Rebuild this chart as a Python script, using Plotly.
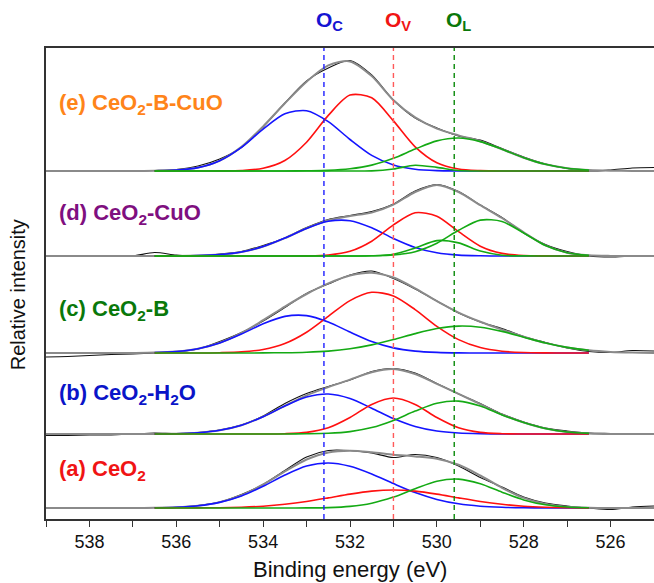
import plotly.graph_objects as go

# ---------------- data ----------------
energy = [525.0, 525.5, 526.0, 526.5, 527.0, 527.5, 528.0, 528.5, 529.0, 529.5,
          530.0, 530.5, 531.0, 531.5, 532.0, 532.5, 533.0, 533.5, 534.0, 534.5,
          535.0, 535.5, 536.0, 536.5, 537.0, 537.5, 538.0, 538.5, 539.0]
fit_energy = [526.5, 527.0, 527.5, 528.0, 528.5, 529.0, 529.5, 530.0, 530.5, 531.0,
              531.5, 532.0, 532.5, 533.0, 533.5, 534.0, 534.5, 535.0, 535.5, 536.0, 536.5]

sample_names = ["(e) CeO<sub>2</sub>-B-CuO", "(d) CeO<sub>2</sub>-CuO", "(c) CeO<sub>2</sub>-B",
                "(b) CeO<sub>2</sub>-H<sub>2</sub>O", "(a) CeO<sub>2</sub>"]
sample_colors = ["#FF8419", "#7F0F7F", "#0A780A", "#0A14C8", "#F01414"]
offsets = [348, 263, 166, 85, 11]

# (e) CeO2-B-CuO
raw_e = [3.5, 3, 1, 0, 2.5, 7, 14, 22.5, 31, 35, 43, 53, 71, 96, 110.5, 103, 90, 68, 44, 23.5,
         12, 5, 1.5, 0.5, 0, 0.5, -0.5, 0.5, -0.5]
env_e = [0, 0.1, 0.3, 1.0, 2.8, 6.7, 13.3, 21.8, 29.8, 35.6, 42.4, 53.7, 70.8, 94.9, 109.6, 105.6,
         89.3, 67.7, 44.6, 24.1, 10.4, 3.4, 0.9, 0.2, 0, 0, 0, 0, 0]
oc_e = [0, 0, 0, 0, 0, 0, 0.1, 0.4, 1.8, 6.0, 15.6, 31.5, 49.4, 60.3, 57.2, 41.9, 23.6, 10.3, 3.4, 0.9, 0.2]
ov_e = [0, 0, 0, 0, 0, 0.4, 2.0, 8.3, 24.2, 50.1, 73.3, 75.9, 55.6, 28.8, 10.5, 2.7, 0.5, 0.1, 0, 0, 0]
ol_e = [1.0, 2.8, 6.7, 13.3, 21.8, 29.4, 33.0, 30.1, 21.9, 12.7, 5.9, 2.2, 0.6, 0.2, 0, 0, 0, 0, 0, 0, 0]
ol2_e = [0, 0, 0, 0, 0, 0, 0.5, 3.6, 5.8, 2.0, 0.1, 0, 0, 0, 0, 0, 0, 0, 0, 0, 0]

# (d) CeO2-CuO
raw_d = [0.5, 0, -1, 0, 4.5, 11.5, 23, 38.5, 51, 64.5, 71.5, 65, 52, 44.5, 40.5, 36.5, 28.5, 18,
         10.5, 4.5, 2, 0, 1, 3.5, 0, -0.5, -0.5, 0, -0.5]
env_d = [0, 0, 0.1, 0.7, 3.3, 10.6, 23.6, 38.0, 50.8, 64.0, 71.1, 64.0, 51.4, 43.4, 40.0, 35.7,
         27.7, 17.9, 9.4, 4.0, 1.4, 0.4, 0.1, 0, 0, 0, 0, 0, 0]
oc_d = [0, 0, 0, 0, 0, 0.2, 0.9, 3.2, 8.5, 17.5, 28.2, 35.3, 34.7, 27.6, 17.9, 9.4, 4.0, 1.4, 0.4, 0.1, 0]
ov_d = [0, 0, 0.1, 0.5, 2.6, 9.8, 24.3, 39.8, 43.2, 31.1, 14.8, 4.7, 1.0, 0.1, 0, 0, 0, 0, 0, 0, 0]
ol_d = [0.7, 3.3, 10.5, 23.0, 34.6, 35.9, 25.7, 12.7, 4.3, 1.0, 0.2, 0, 0, 0, 0, 0, 0, 0, 0, 0, 0]
ol2_d = [0, 0, 0, 0.1, 0.8, 4.9, 13.1, 15.4, 8.0, 1.8, 0.2, 0, 0, 0, 0, 0, 0, 0, 0, 0, 0]

# (c) CeO2-B
raw_c = [2, 2.5, 0.5, 1.5, 5, 10.5, 16.5, 24.5, 31, 40, 52, 64, 74.5, 82, 78, 69, 59.5, 45.5, 32,
         20.5, 11.5, 4, 1, 0, -1, -1.5, -2.5, -3.5, -4]
env_c = [0.1, 0.4, 1.1, 2.7, 5.6, 10.1, 16.3, 23.4, 31.2, 40.4, 51.8, 64.7, 75.5, 80.3, 77.5, 69.6,
         59.0, 46.4, 32.8, 20.0, 10.3, 4.3, 1.5, 0.4, 0.1, 0, 0, 0, 0]
oc_c = [0, 0, 0, 0, 0, 0, 0.1, 0.6, 1.9, 5.1, 11.5, 20.9, 31.0, 37.4, 36.6, 29.2, 18.9, 10.0, 4.3, 1.5, 0.4]
ov_c = [0, 0, 0.1, 0.5, 1.8, 5.4, 13.4, 26.7, 43.4, 57.0, 60.7, 52.4, 36.7, 20.8, 9.5, 3.5, 1.1, 0.3, 0, 0, 0]
ol_c = [2.7, 5.6, 10.0, 15.8, 21.6, 25.8, 26.9, 24.5, 19.4, 13.4, 8.1, 4.2, 1.9, 0.8, 0.3, 0.1, 0, 0, 0, 0, 0]

# (b) CeO2-H2O
raw_b = [0.5, 0, 0.5, 1, 3, 6, 12, 20, 30.5, 40, 50.5, 61, 65.5, 62.5, 54, 47.5, 40.5, 30.5, 18, 9,
         4, 1.5, 0.5, 1, 0, -1, -1, -1.5, -1.5]
env_b = [0, 0, 0.1, 0.6, 2.0, 5.5, 11.5, 19.5, 29.9, 40.1, 50.2, 60.0, 65.0, 61.8, 54.4, 46.9,
         38.7, 28.2, 17.3, 8.8, 3.7, 1.2, 0.3, 0.1, 0, 0, 0, 0, 0]
oc_b = [0, 0, 0, 0, 0.1, 0.3, 1.0, 3.0, 7.5, 15.4, 25.8, 35.5, 40.0, 36.9, 27.9, 17.3, 8.8, 3.7, 1.2, 0.3, 0.1]
ov_b = [0, 0, 0, 0, 0.3, 1.6, 6.2, 16.5, 29.6, 36.0, 29.6, 16.5, 6.2, 1.6, 0.3, 0, 0, 0, 0, 0, 0]
ol_b = [0.6, 2.0, 5.5, 11.5, 19.1, 28.0, 32.9, 30.7, 22.9, 13.6, 6.4, 2.4, 0.7, 0.2, 0, 0, 0, 0, 0, 0, 0]

# (a) CeO2
raw_a = [2, 1, -1.5, 0, 2, 5, 11, 21, 30.5, 42, 50.5, 53.5, 50.5, 55, 57.5, 57.5, 51, 37.5, 23.5,
         13.5, 6, 2.5, 0.5, 0.5, -0.5, 0.5, -0.5, 0.5, 0]
env_a = [0, 0, 0, 0.3, 1.3, 4.1, 10.1, 20.2, 32.5, 43.2, 49.3, 51.6, 53.3, 55.7, 57.2, 55.5, 48.5,
         36.6, 23.5, 12.8, 5.9, 2.3, 0.7, 0.2, 0, 0, 0, 0, 0]
oc_a = [0, 0, 0.1, 0.2, 0.7, 1.8, 4.2, 8.6, 15.4, 24.4, 34.0, 41.7, 45.0, 41.9, 32.9, 21.7, 12.0, 5.6, 2.2, 0.7, 0.2]
ov_a = [0.1, 0.3, 0.8, 1.8, 3.7, 6.5, 10.1, 13.9, 16.9, 18.0, 16.9, 13.9, 10.1, 6.5, 3.7, 1.8, 0.8, 0.3, 0.1, 0, 0]
ol_a = [0.2, 1.0, 3.2, 8.1, 15.8, 24.2, 28.9, 26.8, 19.3, 10.9, 4.8, 1.6, 0.4, 0.1, 0, 0, 0, 0, 0, 0, 0]

peak_names = ["O<sub>C</sub>", "O<sub>V</sub>", "O<sub>L</sub>"]
peak_positions = [532.6, 531.0, 529.6]
peak_label_colors = ["#1414D2", "#F01414", "#0A780A"]
peak_line_colors = ["#1E1EFF", "#FF5A5A", "#0A8A0A"]

x_ticks = [538, 536, 534, 532, 530, 528, 526]

spectra = [
    (raw_e, env_e, [oc_e, ov_e, ol_e, ol2_e]),
    (raw_d, env_d, [oc_d, ov_d, ol_d, ol2_d]),
    (raw_c, env_c, [oc_c, ov_c, ol_c]),
    (raw_b, env_b, [oc_b, ov_b, ol_b]),
    (raw_a, env_a, [oc_a, ov_a, ol_a]),
]
comp_colors = ["#1414FF", "#FF1010", "#14AA14", "#14AA14"]

FONT = "Arial, Liberation Sans, sans-serif"

# ---------------- figure ----------------
fig = go.Figure()
for (raw, env, comps), off in zip(spectra, offsets):
    fig.add_trace(go.Scatter(x=energy, y=[v + off for v in raw], mode="lines",
                             line=dict(color="#111111", width=1.1, shape="spline", smoothing=0.8),
                             showlegend=False, hoverinfo="skip"))
    fig.add_trace(go.Scatter(x=energy, y=[v + off for v in env], mode="lines",
                             line=dict(color="#8A8A8A", width=2, shape="spline", smoothing=0.8),
                             showlegend=False, hoverinfo="skip"))
    for comp, col in zip(comps, comp_colors):
        fig.add_trace(go.Scatter(x=fit_energy, y=[v + off for v in comp], mode="lines",
                                 line=dict(color=col, width=1.6, shape="spline", smoothing=0.8),
                                 showlegend=False, hoverinfo="skip"))

label_y = [415, 305, 209, 125, 49]
annotations = []
for name, col, ly in zip(sample_names, sample_colors, label_y):
    annotations.append(dict(x=538.75, y=ly, xref="x", yref="y", text="<b>" + name + "</b>",
                            showarrow=False, xanchor="left", yanchor="middle",
                            font=dict(family=FONT, size=22, color=col)))

shapes = []
for name, pos, lc, sc in zip(peak_names, peak_positions, peak_label_colors, peak_line_colors):
    shapes.append(dict(type="line", x0=pos, x1=pos, xref="x", yref="paper", y0=0, y1=1,
                       line=dict(color=sc, width=1.4, dash="5px,4px")))
    annotations.append(dict(x=pos, y=1.057, xref="x", yref="paper", text="<b>" + name + "</b>",
                            showarrow=False, xanchor="left", xshift=-10, yanchor="middle",
                            font=dict(family=FONT, size=21, color=lc)))

annotations.append(dict(x=0.5, y=-0.108, xref="paper", yref="paper", text="Binding energy (eV)",
                        showarrow=False, xanchor="center", yanchor="middle",
                        font=dict(family=FONT, size=22, color="#111111")))
annotations.append(dict(x=-0.046, y=0.475, xref="paper", yref="paper", text="Relative intensity",
                        showarrow=False, xanchor="center", yanchor="middle", textangle=-90,
                        font=dict(family=FONT, size=20, color="#111111")))

fig.update_layout(
    width=654, height=583,
    margin=dict(l=46, r=0, t=48, b=64),
    paper_bgcolor="white", plot_bgcolor="white",
    annotations=annotations, shapes=shapes,
    xaxis=dict(range=[539, 525], tickvals=x_ticks, ticks="outside", ticklen=6, tickwidth=1.3,
               tickcolor="#333333", showline=True, linecolor="#333333", linewidth=1.5,
               mirror=True, showgrid=False, zeroline=False,
               tickfont=dict(family=FONT, size=18, color="#111111"),
               minor=dict(dtick=1, tick0=525, ticks="outside", ticklen=6, tickwidth=1.3,
                          tickcolor="#333333", showgrid=False)),
    yaxis=dict(range=[0, 471], showticklabels=False, ticks="", showline=True,
               linecolor="#333333", linewidth=1.5, mirror=False, showgrid=False, zeroline=False),
)

fig.write_html("out.html")
